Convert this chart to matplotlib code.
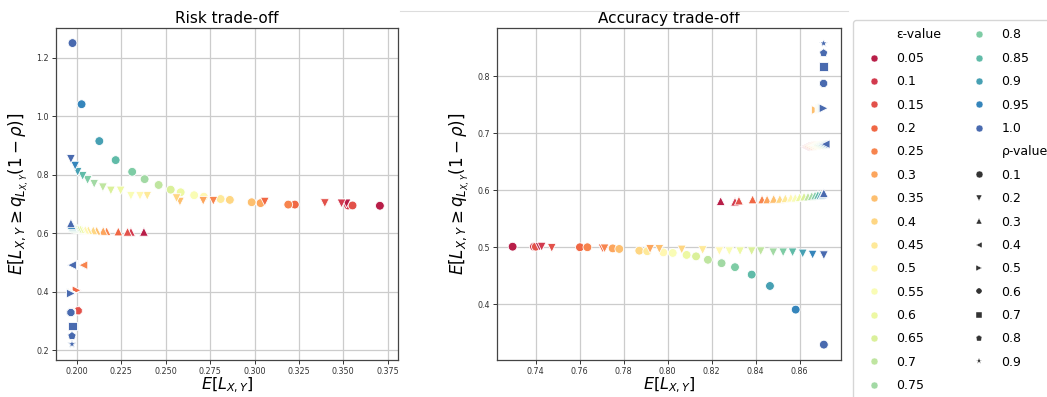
import numpy as np
import matplotlib.pyplot as plt
from matplotlib.lines import Line2D

# epsilon (hue) and rho (style) levels
eps_values = [0.05, 0.1, 0.15, 0.2, 0.25, 0.3, 0.35, 0.4, 0.45, 0.5,
              0.55, 0.6, 0.65, 0.7, 0.75, 0.8, 0.85, 0.9, 0.95, 1.0]
rho_values = [0.1, 0.2, 0.3, 0.4, 0.5, 0.6, 0.7, 0.8, 0.9]

# Risk trade-off: one row per rho, one entry per epsilon
risk_x = [
    [0.3706, 0.3527, 0.3552, 0.3227, 0.3190, 0.3034, 0.2984, 0.2861, 0.2809, 0.2715,
     0.2660, 0.2584, 0.2528, 0.2460, 0.2381, 0.2311, 0.2218, 0.2126, 0.2026, 0.1975],
    [0.3518, 0.3490, 0.3396, 0.3058, 0.2768, 0.2711, 0.2580, 0.2561, 0.2396, 0.2355,
     0.2304, 0.2246, 0.2191, 0.2146, 0.2097, 0.2060, 0.2032, 0.2004, 0.1990, 0.1966],
    [0.2377, 0.2304, 0.2285, 0.2233, 0.2167, 0.2148, 0.2111, 0.2092, 0.2064, 0.2047,
     0.2028, 0.2019, 0.2005, 0.1994, 0.1987, 0.1980, 0.1977, 0.1975, 0.1970, 0.1966],
    [0.2034, 0.2035, 0.2035, 0.2036, 0.2036, 0.1980, 0.1979, 0.1978, 0.1977, 0.1976,
     0.1976, 0.1975, 0.1975, 0.1974, 0.1974, 0.1973, 0.1973, 0.1972, 0.1972, 0.1972],
    [0.2000, 0.2000, 0.1999, 0.1998, 0.1970, 0.1969, 0.1969, 0.1968, 0.1968, 0.1968,
     0.1967, 0.1967, 0.1967, 0.1967, 0.1966, 0.1966, 0.1966, 0.1966, 0.1966, 0.1966],
    [0.2005, 0.2006, 0.2007, 0.1970, 0.1970, 0.1969, 0.1969, 0.1969, 0.1968, 0.1968,
     0.1968, 0.1968, 0.1967, 0.1967, 0.1967, 0.1967, 0.1966, 0.1966, 0.1966, 0.1966],
    [0.1975] * 20,
    [0.1972] * 20,
    [0.1972] * 20,
]
risk_y = [
    [0.694, 0.695, 0.695, 0.698, 0.698, 0.703, 0.706, 0.714, 0.717, 0.725,
     0.730, 0.740, 0.749, 0.765, 0.785, 0.810, 0.850, 0.915, 1.041, 1.250],
    [0.702, 0.702, 0.703, 0.708, 0.711, 0.711, 0.708, 0.720, 0.728, 0.728,
     0.728, 0.746, 0.746, 0.757, 0.769, 0.782, 0.796, 0.810, 0.831, 0.854],
    [0.605, 0.605, 0.605, 0.606, 0.607, 0.608, 0.609, 0.610, 0.611, 0.612,
     0.613, 0.614, 0.615, 0.616, 0.617, 0.619, 0.621, 0.624, 0.628, 0.634],
    [0.491] * 20,
    [0.404, 0.404, 0.405, 0.405, 0.397, 0.397, 0.397, 0.397, 0.396, 0.396,
     0.396, 0.396, 0.395, 0.395, 0.395, 0.395, 0.395, 0.394, 0.394, 0.394],
    [0.335, 0.335, 0.335, 0.331, 0.331, 0.331, 0.331, 0.330, 0.330, 0.330,
     0.330, 0.330, 0.330, 0.330, 0.329, 0.329, 0.329, 0.329, 0.329, 0.329],
    [0.283] * 20,
    [0.249] * 20,
    [0.221] * 20,
]

# Accuracy trade-off
acc_x = [
    [0.7295, 0.7392, 0.7401, 0.7601, 0.7635, 0.7750, 0.7780, 0.7871, 0.7907, 0.7980,
     0.8023, 0.8086, 0.8129, 0.8183, 0.8245, 0.8306, 0.8382, 0.8465, 0.8582, 0.8710],
    [0.7417, 0.7427, 0.7473, 0.7704, 0.7713, 0.7920, 0.7962, 0.8064, 0.8159, 0.8235,
     0.8280, 0.8329, 0.8382, 0.8423, 0.8480, 0.8525, 0.8568, 0.8614, 0.8659, 0.8710],
    [0.8241, 0.8306, 0.8324, 0.8386, 0.8429, 0.8452, 0.8482, 0.8510, 0.8535, 0.8560,
     0.8580, 0.8600, 0.8620, 0.8638, 0.8655, 0.8670, 0.8683, 0.8695, 0.8705, 0.8710],
    [0.8625, 0.8628, 0.8632, 0.8636, 0.8640, 0.8645, 0.8650, 0.8655, 0.8660, 0.8665,
     0.8670, 0.8675, 0.8680, 0.8685, 0.8690, 0.8695, 0.8700, 0.8705, 0.8710, 0.8718],
    [0.8672, 0.8672, 0.8672, 0.8672, 0.8673, 0.8673, 0.8674, 0.8690, 0.8692, 0.8694,
     0.8696, 0.8698, 0.8700, 0.8702, 0.8703, 0.8704, 0.8705, 0.8706, 0.8707, 0.8709],
    [0.8709] * 20,
    [0.8709] * 20,
    [0.8709] * 20,
    [0.8709] * 20,
]
acc_y = [
    [0.501, 0.501, 0.501, 0.500, 0.500, 0.498, 0.497, 0.494, 0.493, 0.491,
     0.490, 0.4865, 0.484, 0.478, 0.472, 0.465, 0.452, 0.432, 0.3905, 0.329],
    [0.501, 0.501, 0.499, 0.498, 0.498, 0.497, 0.497, 0.496, 0.495, 0.493,
     0.493, 0.493, 0.493, 0.493, 0.491, 0.491, 0.491, 0.489, 0.487, 0.486],
    [0.581, 0.580, 0.582, 0.584, 0.584, 0.584, 0.585, 0.585, 0.586, 0.587,
     0.587, 0.588, 0.589, 0.589, 0.590, 0.591, 0.592, 0.592, 0.593, 0.595],
    [0.6765, 0.677, 0.677, 0.6775, 0.6775, 0.678, 0.678, 0.678, 0.6785, 0.6785,
     0.679, 0.679, 0.679, 0.6795, 0.6795, 0.680, 0.680, 0.6805, 0.6805, 0.681],
    [0.741, 0.741, 0.741, 0.741, 0.741, 0.741, 0.741, 0.743, 0.743, 0.743,
     0.743, 0.743, 0.744, 0.744, 0.744, 0.744, 0.744, 0.744, 0.744, 0.744],
    [0.7877] * 20,
    [0.817] * 20,
    [0.841] * 20,
    [0.858] * 20,
]

markers = ['o', 'v', '^', '<', '>', '8', 's', 'p', '*']
colors = plt.get_cmap('Spectral')(np.linspace(0, 1, len(eps_values) + 2)[1:-1])

fig = plt.figure(figsize=(10.47, 3.97), dpi=100)
ax1 = fig.add_axes([56 / 1047, 1 - 360 / 397, 342 / 1047, 332 / 397])
ax2 = fig.add_axes([497 / 1047, 1 - 360 / 397, 344 / 1047, 332 / 397])


def draw(ax, xs, ys, title):
    for i, rho in enumerate(rho_values):
        ax.scatter(xs[i], ys[i], c=colors, marker=markers[i], s=40,
                   edgecolors='white', linewidths=0.6, zorder=3)
    ax.set_title(title, fontsize=11, pad=3.5)
    ax.set_xlabel(r'$E[L_{X,Y}]$', fontsize=11.5, labelpad=0)
    ax.set_ylabel(r'$E[L_{X,Y} \geq q_{L_{X,Y}}(1-\rho)]$', fontsize=12, labelpad=4)
    ax.grid(True, color='#cccccc', linewidth=0.9)
    ax.set_axisbelow(True)
    ax.tick_params(labelsize=5.8, colors='#333333', length=3, width=0.7, pad=2)
    for sp in ax.spines.values():
        sp.set_color('#444444')
        sp.set_linewidth(0.9)


draw(ax1, risk_x, risk_y, 'Risk trade-off')
ax1.set_xlim(0.1882, 0.3808)
ax1.set_ylim(0.1668, 1.3015)
ax1.set_xticks(np.arange(0.200, 0.376, 0.025))
ax1.set_xticklabels(['%.3f' % t for t in np.arange(0.200, 0.376, 0.025)])
ax1.set_yticks([0.2, 0.4, 0.6, 0.8, 1.0, 1.2])

draw(ax2, acc_x, acc_y, 'Accuracy trade-off')
ax2.set_xlim(0.7224, 0.8788)
ax2.set_ylim(0.302, 0.885)
ax2.set_xticks([0.74, 0.76, 0.78, 0.80, 0.82, 0.84, 0.86])
ax2.set_xticklabels(['0.74', '0.76', '0.78', '0.80', '0.82', '0.84', '0.86'])
ax2.set_yticks([0.4, 0.5, 0.6, 0.7, 0.8])

# screenshot separator above the right panel
fig.add_artist(Line2D([400 / 1047, 848 / 1047], [1 - 11 / 397, 1 - 11 / 397],
                      color='#dddddd', linewidth=0.8))

# legend: hue levels then style levels
handles = [Line2D([], [], linestyle='', marker='')]
labels = ['ε-value']
for c, e in zip(colors, eps_values):
    handles.append(Line2D([], [], linestyle='', marker='o', color=c,
                          markeredgecolor='white', markeredgewidth=0.3, markersize=5))
    labels.append(str(e))
handles.append(Line2D([], [], linestyle='', marker=''))
labels.append('ρ-value')
for m, r in zip(markers, rho_values):
    handles.append(Line2D([], [], linestyle='', marker=m, color='0.2',
                          markeredgecolor='white', markeredgewidth=0.3, markersize=5))
    labels.append(str(r))

fig.legend(handles, labels, ncol=2, loc='upper left', fontsize=9,
           bbox_to_anchor=(853 / 1047, 1 - 20 / 397), borderaxespad=0,
           borderpad=0.68, labelspacing=0.83, frameon=True)

fig.savefig('out.png', dpi=100)
